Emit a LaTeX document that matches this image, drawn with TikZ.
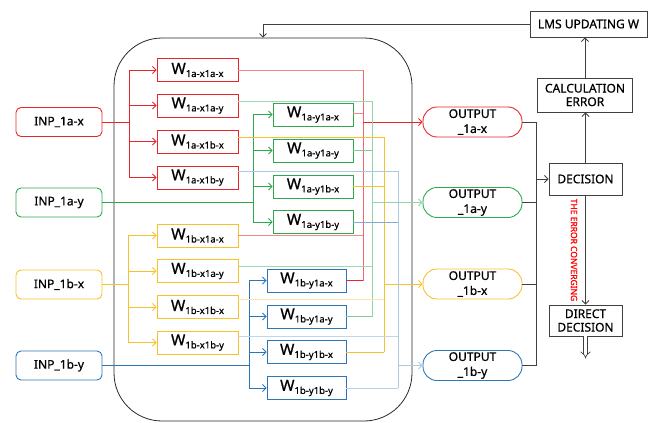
\documentclass[tikz,border=0pt]{standalone}
\usepackage{fontspec}
\setmainfont{Noto Sans}[FakeBold=0.7]
\newfontfamily\convfont{Noto Sans}[FakeBold=1.2]
\usetikzlibrary{arrows.meta}
\definecolor{cR}{HTML}{E8262B}
\definecolor{cG}{HTML}{2DA84E}
\definecolor{cY}{HTML}{F7C12C}
\definecolor{cB}{HTML}{2E75B6}
\definecolor{cK}{HTML}{404040}
\newcommand\Wlab[1]{{\fontsize{15.5}{17}\selectfont W}\raisebox{-3pt}{\fontsize{9.5}{11}\selectfont #1}}
\begin{document}
\begin{tikzpicture}[x=1pt,y=-1pt,
  tip/.style={-{Straight Barb[length=3.5pt,width=7pt]}},
  inp/.style={draw, line width=0.9pt, rounded corners=5pt, minimum width=86pt, minimum height=29pt, inner sep=0pt, font=\fontsize{12}{14}\selectfont},
  wbox/.style={draw, line width=0.9pt, minimum width=81pt, minimum height=23pt, inner sep=0pt},
  obox/.style={draw, line width=0.9pt, rounded corners=14pt, minimum width=99pt, minimum height=30pt, inner sep=0pt, align=center, font=\fontsize{12}{15}\selectfont},
  kbox/.style={draw=cK, line width=0.9pt, inner sep=0pt, align=center, font=\fontsize{12}{13.5}\selectfont},
  wire/.style={line width=0.8pt}
]
\useasboundingbox (0,0) rectangle (656,423);
% big container
\node[draw=black!85, line width=0.8pt, rounded corners=48pt, minimum width=298pt, minimum height=383pt, inner sep=0pt] (big) at (263,229.5) {};
% inputs
\node[inp, draw=cR] (I1) at (59,122) {INP\_1a-x};
\node[inp, draw=cG] (I2) at (59,202.5) {INP\_1a-y};
\node[inp, draw=cY] (I3) at (59,284.5) {INP\_1b-x};
\node[inp, draw=cB] (I4) at (59,365.5) {INP\_1b-y};
% weight boxes
\node[wbox, draw=cR] (R1) at (197.5,70) {\Wlab{1a-x1a-x}};
\node[wbox, draw=cR] (R2) at (197.5,105.5) {\Wlab{1a-x1a-y}};
\node[wbox, draw=cR] (R3) at (197.5,141.5) {\Wlab{1a-x1b-x}};
\node[wbox, draw=cR] (R4) at (197.5,177.5) {\Wlab{1a-x1b-y}};
\node[wbox, draw=cG, minimum width=80pt] (G1) at (313,114.5) {\Wlab{1a-y1a-x}};
\node[wbox, draw=cG, minimum width=80pt] (G2) at (313,150.5) {\Wlab{1a-y1a-y}};
\node[wbox, draw=cG, minimum width=80pt] (G3) at (313,186.5) {\Wlab{1a-y1b-x}};
\node[wbox, draw=cG, minimum width=80pt] (G4) at (313,222) {\Wlab{1a-y1b-y}};
\node[wbox, draw=cY] (Y1) at (197.5,235.5) {\Wlab{1b-x1a-x}};
\node[wbox, draw=cY] (Y2) at (197.5,271) {\Wlab{1b-x1a-y}};
\node[wbox, draw=cY] (Y3) at (197.5,307) {\Wlab{1b-x1b-x}};
\node[wbox, draw=cY] (Y4) at (197.5,342.5) {\Wlab{1b-x1b-y}};
\node[wbox, draw=cB, minimum width=79pt] (B1) at (306.5,280.5) {\Wlab{1b-y1a-x}};
\node[wbox, draw=cB, minimum width=79pt] (B2) at (306.5,316.5) {\Wlab{1b-y1a-y}};
\node[wbox, draw=cB, minimum width=79pt] (B3) at (306.5,352) {\Wlab{1b-y1b-x}};
\node[wbox, draw=cB, minimum width=79pt] (B4) at (306.5,388) {\Wlab{1b-y1b-y}};
% outputs
\node[obox, draw=cR] (O1) at (472.5,122) {OUTPUT\\\_1a-x};
\node[obox, draw=cG] (O2) at (472.5,202.5) {OUTPUT\\\_1a-y};
\node[obox, draw=cY] (O3) at (472.5,284) {OUTPUT\\\_1b-x};
\node[obox, draw=cB] (O4) at (472.5,365.5) {OUTPUT\\\_1b-y};
% right blocks
\node[kbox, minimum width=117pt, minimum height=26pt] (LMS) at (588.5,24) {LMS UPDATING W};
\node[kbox, minimum width=95pt, minimum height=34pt] (CALC) at (585,95) {CALCULATION\\ERROR};
\node[kbox, minimum width=73pt, minimum height=32pt] (DEC) at (585.5,179) {DECISION};
\node[kbox, minimum width=73pt, minimum height=31pt] (DIR) at (585.5,320.5) {DIRECT\\DECISION};
% fan-out trunks
\coordinate (tR) at (129,122);
\coordinate (tG) at (253,202.5);
\coordinate (tY) at (128,284.5);
\coordinate (tB) at (249,365.5);
\foreach \b in {R1,R2,R3,R4}{\draw[wire, cR, tip] (I1.east) -- (tR) |- (\b.west);}
\foreach \b in {G1,G2,G3,G4}{\draw[wire, cG, tip] (I2.east) -- (tG) |- (\b.west);}
\foreach \b in {Y1,Y2,Y3,Y4}{\draw[wire, cY, tip] (I3.east) -- (tY) |- (\b.west);}
\foreach \b in {B1,B2,B3,B4}{\draw[wire, cB, tip] (I4.east) -- (tB) |- (\b.west);}
% buses
\coordinate (bR) at (363,0);
\coordinate (bG) at (372,0);
\coordinate (bY) at (384,0);
\coordinate (bB) at (398,0);
% red bus -> OUTPUT_1a-x
\draw[wire, cR!55] (R1.east) -- (R1.east -| bR);
\draw[wire, cR!55] (G1.east |- 0,113) -- (bR |- 0,113);
\draw[wire, cR!55] (Y1.east) -- (Y1.east -| bR);
\draw[wire, cR] (B1.east) -- (B1.east -| bR);
\draw[wire, cR!70] (bR |- R1.east) -- (bR |- B1.east);
\draw[wire, cR, tip] (bR |- O1.west) -- (O1.west);
% green bus -> OUTPUT_1a-y
\draw[wire, cG!45] (R2.east |- 0,101) -- (bG |- 0,101);
\draw[wire, cG!60] (G2.east) -- (G2.east -| bG);
\draw[wire, cG!45] (Y2.east |- 0,266) -- (bG |- 0,266);
\draw[wire, cG!60] (B2.east) -- (B2.east -| bG);
\draw[wire, cG!50] (bG |- 0,101) -- (bG |- B2.east);
\draw[wire, cG!50, tip] (bG |- O2.west) -- (O2.west);
% yellow bus -> OUTPUT_1b-x
\draw[wire, cY] (R3.east |- 0,137) -- (bY |- 0,137);
\draw[wire, cY] (G3.east) -- (G3.east -| bY);
\draw[wire, cY!40] (Y3.east |- 0,299) -- (bY |- 0,299);
\draw[wire, cY] (B3.east) -- (B3.east -| bY);
\draw[wire, cY] (bY |- 0,137) -- (bY |- B3.east);
\draw[wire, cY, tip] (bY |- O3.west) -- (O3.west);
% blue bus -> OUTPUT_1b-y
\draw[wire, cB!40] (R4.east |- 0,171) -- (bB |- 0,171);
\draw[wire, cB!60] (G4.east) -- (G4.east -| bB);
\draw[wire, cB!30] (Y4.east |- 0,336) -- (bB |- 0,336);
\draw[wire, cB!35] (B4.east) -- (B4.east -| bB);
\draw[wire, cB!40] (bB |- 0,171) -- (bB |- B4.east);
\draw[wire, cB!40, tip] (bB |- O4.west) -- (O4.west);
% collector and feedback
\coordinate (col) at (536,0);
\draw[wire, cK] (O1.east) -- (O1.east -| col) -- (O4.east -| col) -- (O4.east);
\draw[wire, cK] (O2.east) -- (O2.east -| col);
\draw[wire, cK] (O3.east) -- (O3.east -| col);
\draw[wire, cK, tip] (col |- DEC.west) -- (DEC.west);
\draw[wire, cK, tip] (DEC.north) -- (DEC.north |- CALC.south);
\draw[wire, cK, tip] (CALC.north) -- (CALC.north |- LMS.south);
\draw[wire, cK, tip] (LMS.west) -| (big.north);
\draw[wire, cK, tip] (DEC.south) -- (DEC.south |- DIR.north);
\node[rotate=-90, text=red, font=\convfont\fontsize{8.5}{10}\selectfont] (conv) at (574,250) {THE ERROR CONVERGING};
\draw[cK, line width=0.7pt, double distance=3pt, -{Implies}] (DIR.south) -- ++(0,22);
\end{tikzpicture}
\end{document}
